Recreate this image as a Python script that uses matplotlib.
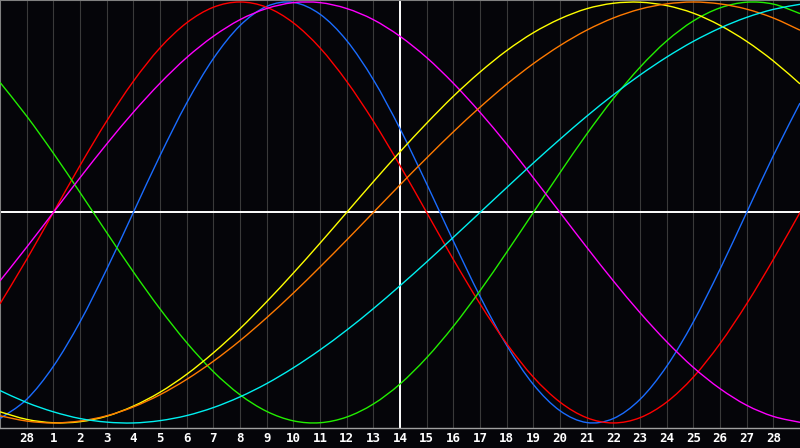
import matplotlib
matplotlib.use("Agg")
import matplotlib.pyplot as plt
from matplotlib.path import Path
from matplotlib.patches import PathPatch
import numpy as np

# Day labels shown under the grid lines (previous month's 28th, then 1..28)
day_labels = ["28"] + [str(d) for d in range(1, 29)]

# Daily values (from the day before the first label to the day after the last)
physical = [-0.979, -0.888, -0.731, -0.520, -0.270, 0.000, 0.270, 0.520, 0.731, 0.888,
            0.979, 0.998, 0.942, 0.817, 0.631, 0.398, 0.136, -0.136, -0.398, -0.631,
            -0.817, -0.942, -0.998, -0.979, -0.888, -0.731, -0.520, -0.270, 0.000, 0.270,
            0.520]
emotional = [-0.434, -0.223, 0.000, 0.223, 0.434, 0.623, 0.782, 0.901, 0.975, 1.000,
             0.975, 0.901, 0.782, 0.623, 0.434, 0.223, 0.000, -0.223, -0.434, -0.623,
             -0.782, -0.901, -0.975, -1.000, -0.975, -0.901, -0.782, -0.623, -0.434, -0.223,
             0.000]
intellectual = [0.618, 0.458, 0.282, 0.095, -0.095, -0.282, -0.458, -0.618, -0.756, -0.866,
                -0.945, -0.990, -0.999, -0.972, -0.910, -0.815, -0.690, -0.541, -0.372, -0.189,
                0.000, 0.189, 0.372, 0.541, 0.690, 0.815, 0.910, 0.972, 0.999, 0.990,
                0.945]
intuitive = [-0.325, -0.165, 0.000, 0.165, 0.325, 0.476, 0.614, 0.736, 0.837, 0.916,
             0.969, 0.997, 0.997, 0.969, 0.916, 0.837, 0.736, 0.614, 0.476, 0.325,
             0.165, 0.000, -0.165, -0.325, -0.476, -0.614, -0.736, -0.837, -0.916, -0.969,
             -0.997]
aesthetic = [-0.947, -0.983, -0.999, -0.994, -0.968, -0.920, -0.854, -0.769, -0.667, -0.552,
             -0.424, -0.288, -0.146, 0.000, 0.146, 0.288, 0.424, 0.552, 0.667, 0.769,
             0.854, 0.920, 0.968, 0.994, 0.999, 0.983, 0.947, 0.889, 0.813, 0.720,
             0.611]
awareness = [-0.966, -0.991, -1.000, -0.991, -0.966, -0.924, -0.866, -0.793, -0.707, -0.609,
             -0.500, -0.383, -0.259, -0.131, 0.000, 0.131, 0.259, 0.383, 0.500, 0.609,
             0.707, 0.793, 0.866, 0.924, 0.966, 0.991, 1.000, 0.991, 0.966, 0.924,
             0.866]
spiritual = [-0.846, -0.903, -0.947, -0.979, -0.996, -1.000, -0.989, -0.965, -0.927, -0.876,
             -0.813, -0.738, -0.653, -0.559, -0.457, -0.348, -0.235, -0.118, 0.000, 0.118,
             0.235, 0.348, 0.457, 0.559, 0.653, 0.738, 0.813, 0.876, 0.927, 0.965,
             0.989]

today_label = "14"

series = [
    (physical, "#1a6cff"),
    (emotional, "#ff0000"),
    (intellectual, "#22ee00"),
    (intuitive, "#ff00ff"),
    (aesthetic, "#ffff00"),
    (awareness, "#ff7a00"),
    (spiritual, "#00f0f0"),
]


def smooth_path(xs, ys):
    """Smooth (Catmull-Rom style) Bezier rendering through the data points."""
    p = np.column_stack([xs, ys]).astype(float)
    ext = np.vstack([p[0], p, p[-1]])
    verts = [p[0]]
    codes = [Path.MOVETO]
    for i in range(len(p) - 1):
        p0, p1, p2, p3 = ext[i], ext[i + 1], ext[i + 2], ext[i + 3]
        c1 = p1 + (p2 - p0) / 6.0
        c2 = p2 - (p3 - p1) / 6.0
        verts += [c1, c2, p2]
        codes += [Path.CURVE4] * 3
    return Path(verts, codes)


bg = "#050509"
fig = plt.figure(figsize=(8, 4.48), dpi=100, facecolor=bg)
ax = fig.add_axes([0, 20 / 448, 1, 428 / 448])
ax.set_facecolor(bg)

x = np.arange(len(physical))
ticks = x[1:1 + len(day_labels)]

ax.set_xlim(x[0], x[-1])
ax.set_ylim(-1.024, 1.0095)

ax.set_xticks(ticks)
ax.set_xticklabels(day_labels)
ax.set_yticks([])
ax.tick_params(axis="x", length=0, pad=3, labelcolor="white", labelsize=9)
for lab in ax.get_xticklabels():
    lab.set_family("DejaVu Sans Mono")
    lab.set_fontweight("bold")
ax.grid(axis="x", color="#3a3a3a", linewidth=0.8)
ax.set_axisbelow(True)

for s in ["left", "top"]:
    ax.spines[s].set_color("#808080")
    ax.spines[s].set_linewidth(1.5)
ax.spines["bottom"].set_color("#a0a0a0")
ax.spines["bottom"].set_linewidth(1.0)
ax.spines["right"].set_visible(False)

ax.axhline(0, color="white", linewidth=1.4, zorder=1.5)
ax.axvline(ticks[day_labels.index(today_label, 1)], color="white", linewidth=1.4, zorder=1.5)

for vals, col in series:
    ax.add_patch(PathPatch(smooth_path(x, vals), facecolor="none", edgecolor=col,
                           linewidth=1.0, zorder=3))

fig.savefig("out.png", dpi=100, facecolor=bg)
